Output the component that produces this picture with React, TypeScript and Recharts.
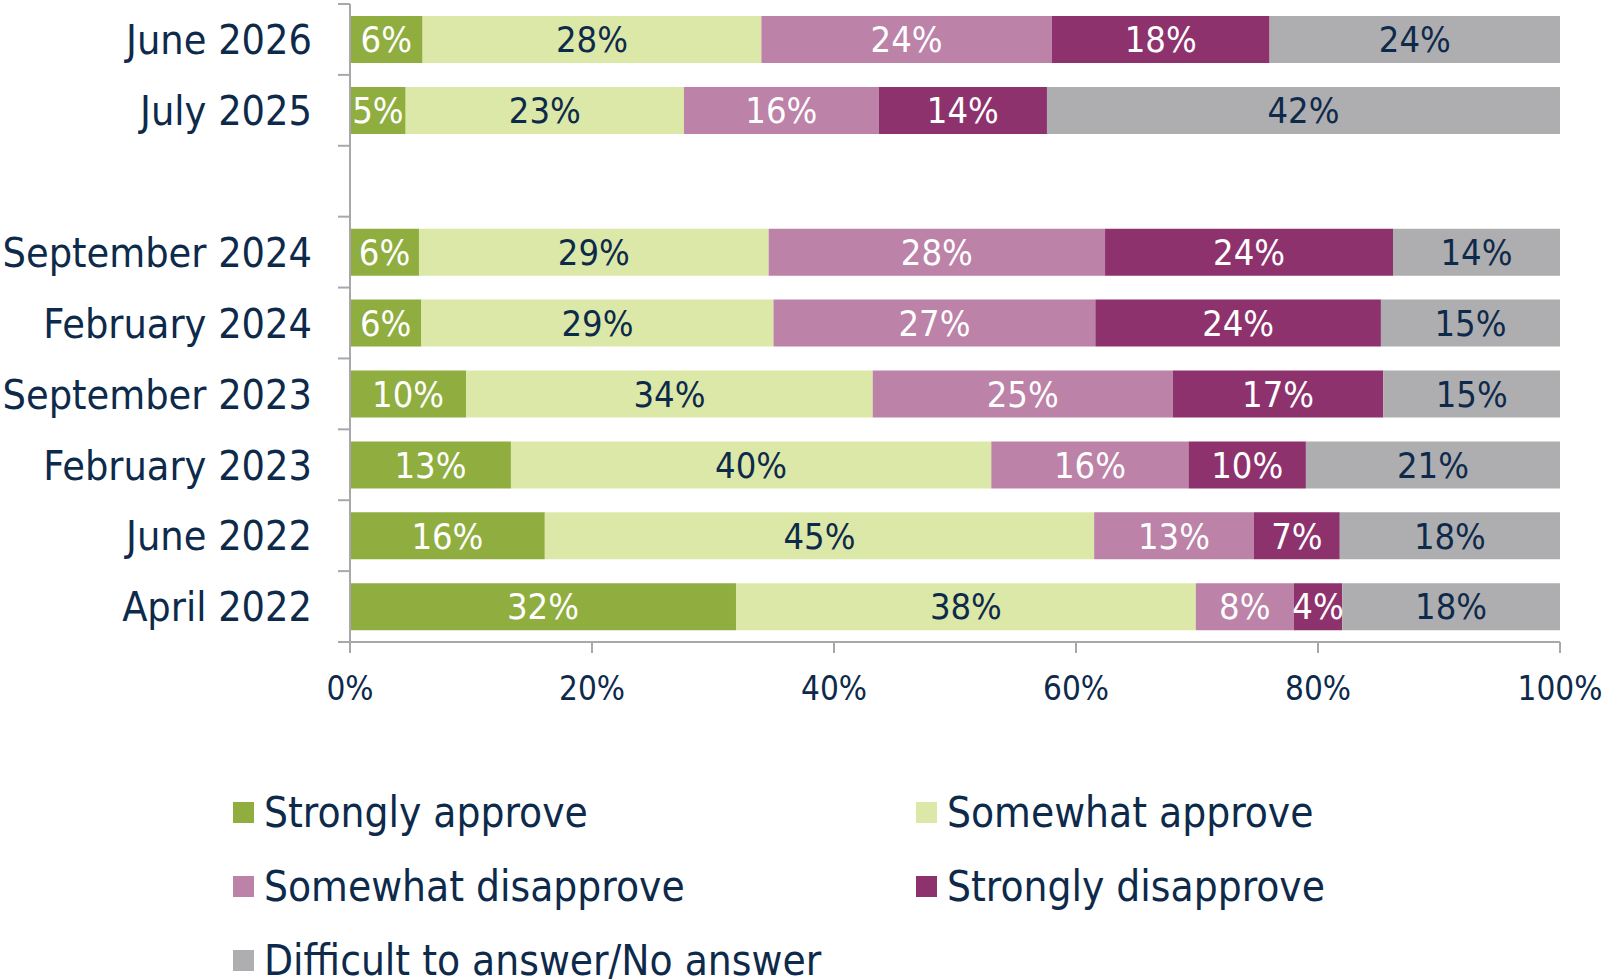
import { Bar, BarChart, LabelList, XAxis, YAxis } from "recharts";

const categories = [
  "June 2026",
  "July 2025",
  "",
  "September 2024",
  "February 2024",
  "September 2023",
  "February 2023",
  "June 2022",
  "April 2022",
];
const stronglyApprove = [6, 4.6, null, 5.7, 5.9, 9.6, 13.3, 16.1, 31.9];
const somewhatApprove = [28, 23.0, null, 28.9, 29.1, 33.6, 39.7, 45.4, 38.0];
const somewhatDisapprove = [24, 16.1, null, 27.8, 26.6, 24.8, 16.3, 13.2, 8.1];
const stronglyDisapprove = [18, 13.9, null, 23.8, 23.6, 17.4, 9.7, 7.1, 4.0];
const noAnswer = [24, 42.4, null, 13.8, 14.8, 14.6, 21.0, 18.2, 18.0];
const xTicks = [0, 20, 40, 60, 80, 100];

const series = [
  { key: "sa", name: "Strongly approve", color: "#8FAE3F", text: "#FFFFFF", values: stronglyApprove },
  { key: "wa", name: "Somewhat approve", color: "#DCE8A7", text: "#0E2A4B", values: somewhatApprove },
  { key: "wd", name: "Somewhat disapprove", color: "#BC82A8", text: "#FFFFFF", values: somewhatDisapprove },
  { key: "sd", name: "Strongly disapprove", color: "#8E326E", text: "#FFFFFF", values: stronglyDisapprove },
  { key: "na", name: "Difficult to answer/No answer", color: "#AEAEB0", text: "#0E2A4B", values: noAnswer },
];

const data = categories.map((name, i) => {
  const row: Record<string, any> = { name };
  series.forEach((s) => (row[s.key] = s.values[i]));
  return row;
});

const W = 1602;
const H = 980;
const PLOT_LEFT = 350;
const PLOT_TOP = 4;
const PLOT_BOTTOM = 642;
const BAND = (PLOT_BOTTOM - PLOT_TOP) / categories.length;
const NAVY = "#0E2A4B";
const AXIS = "#A8A8AC";
const LABEL_FONT = "'DejaVu Sans Condensed', 'DejaVu Sans', sans-serif";
const NUM_FONT = "'Liberation Sans Narrow', 'DejaVu Sans Condensed', sans-serif";

// category label + Excel-style tick marks on the band boundaries
const CategoryTick = (props: any) => {
  const { y, payload, index } = props;
  return (
    <g>
      <line x1={PLOT_LEFT - 12} x2={PLOT_LEFT} y1={y - BAND / 2} y2={y - BAND / 2} stroke={AXIS} strokeWidth={2} />
      {index === categories.length - 1 && (
        <line x1={PLOT_LEFT - 12} x2={PLOT_LEFT} y1={y + BAND / 2} y2={y + BAND / 2} stroke={AXIS} strokeWidth={2} />
      )}
      <text
        x={PLOT_LEFT - 38}
        y={y}
        dy="0.36em"
        textAnchor="end"
        fill={NAVY}
        fontSize={41}
        fontFamily={LABEL_FONT}
        style={{ fontStretch: "condensed" }}
      >
        {payload.value}
      </text>
    </g>
  );
};

const Legendbox = () => (
  <div style={{ position: "absolute", left: 0, top: 0, width: W, height: H, pointerEvents: "none" }}>
    {series.map((s, i) => {
      const col = i % 2;
      const row = Math.floor(i / 2);
      const left = col === 0 ? 233 : 916;
      const top = 812 + row * 74;
      return (
        <div
          key={s.key}
          style={{
            position: "absolute",
            left,
            top: top - 25,
            height: 50,
            display: "flex",
            alignItems: "center",
            whiteSpace: "nowrap",
          }}
        >
          <span style={{ width: 21, height: 21, background: s.color, display: "inline-block", marginRight: 10 }} />
          <span style={{ color: NAVY, fontSize: 42, fontFamily: LABEL_FONT, fontStretch: "condensed" }}>{s.name}</span>
        </div>
      );
    })}
  </div>
);

export default function App() {
  return (
    <div style={{ position: "absolute", left: 0, top: 0, width: W, height: H, background: "#FFFFFF" }}>
      <BarChart
        width={W}
        height={H}
        data={data}
        layout="vertical"
        barCategoryGap="17%"
        margin={{ top: PLOT_TOP, right: W - 1560, bottom: 0, left: 0 }}
      >
        <XAxis
          type="number"
          domain={[0, 100]}
          ticks={xTicks}
          tickFormatter={(v) => `${v}%`}
          axisLine={{ stroke: AXIS, strokeWidth: 2 }}
          tickLine={{ stroke: AXIS, strokeWidth: 2 }}
          tickSize={11}
          tickMargin={24}
          height={H - PLOT_BOTTOM}
          tick={{ fill: NAVY, fontSize: 33, fontFamily: NUM_FONT }}
          interval={0}
        />
        <YAxis
          type="category"
          dataKey="name"
          width={PLOT_LEFT}
          axisLine={{ stroke: AXIS, strokeWidth: 2 }}
          tickLine={false}
          tick={<CategoryTick />}
          interval={0}
        />
        {series.map((s) => (
          <Bar key={s.key} dataKey={s.key} name={s.name} stackId="a" fill={s.color} isAnimationActive={false}>
            <LabelList
              dataKey={s.key}
              position="center"
              formatter={(v: any) => (v == null ? "" : `${Math.round(v)}%`)}
              fill={s.text}
              fontSize={36}
              fontFamily={NUM_FONT}
            />
          </Bar>
        ))}
      </BarChart>
      <Legendbox />
    </div>
  );
}
